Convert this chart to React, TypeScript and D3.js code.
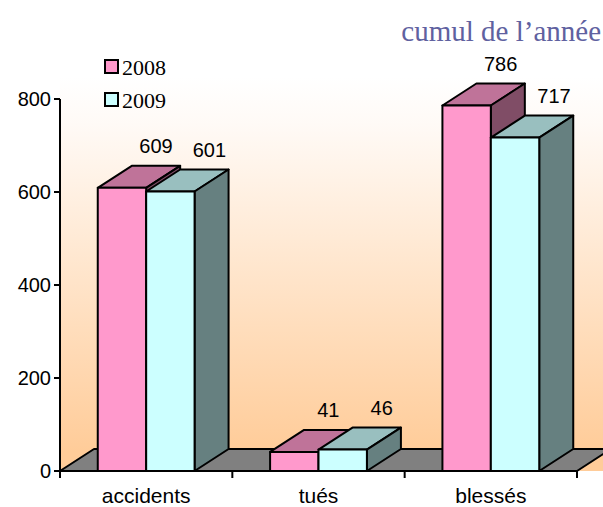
import React from "react";
import * as d3 from "d3";

const categories = ["accidents", "tués", "blessés"];
const seriesNames = ["2008", "2009"];
const values2008 = [609, 41, 786];
const values2009 = [601, 46, 717];
const yTicks = [0, 200, 400, 600, 800];

const width = 603;
const height = 507;
const left = 60;
const right = 577;
const bottom = 471;
const top = 99;
const dx = 34;
const dy = -22;

// excel style shading: front, top (75%), side (50%)
const shades = [
    { front: "#FF99CC", top: "#BF7399", side: "#804D66" },
    { front: "#CCFFFF", top: "#99BFBF", side: "#668080" },
];

const sans = "Liberation Sans, Arial, sans-serif";
const serif = "Liberation Serif, Times New Roman, serif";

const App: React.FC = () => {
    const x = d3.scaleBand().domain(categories).range([left, right]);
    const inner = d3.scaleBand()
        .domain(seriesNames)
        .range([0, x.bandwidth()])
        .paddingInner(0)
        .paddingOuter(0.78);
    const y = d3.scaleLinear().domain([0, 800]).range([bottom, top]);

    const rows = categories.flatMap((c, i) =>
        [values2008[i], values2009[i]].map((v, s) => ({ c, s, v }))
    );

    const floor = [
        [left, bottom],
        [right, bottom],
        [right + dx, bottom + dy],
        [left + dx, bottom + dy],
    ];

    return (
        <svg
            width={width}
            height={height}
            style={{ position: "absolute", left: 0, top: 0, background: "#fff" }}
        >
            <defs>
                <linearGradient id="wall" x1="0" y1="0" x2="0" y2="1">
                    <stop offset="0" stopColor="#ffffff" />
                    <stop offset="0.12" stopColor="#fffaf6" />
                    <stop offset="0.95" stopColor="#FFCC99" />
                    <stop offset="1" stopColor="#FFCC99" />
                </linearGradient>
            </defs>

            {/* walls */}
            <rect
                x={left}
                y={top + dy}
                width={width - left}
                height={bottom - (top + dy)}
                fill="url(#wall)"
            />
            <polygon
                points={floor.map((p) => p.join(",")).join(" ")}
                fill="#808080"
                stroke="#000"
                strokeWidth={2}
                strokeLinejoin="round"
            />

            {/* bars */}
            {rows.map((d, i) => {
                const x0 = (x(d.c) as number) + (inner(seriesNames[d.s]) as number);
                const w = inner.bandwidth();
                const y0 = y(d.v);
                const sh = shades[d.s];
                const topFace = [
                    [x0, y0], [x0 + w, y0], [x0 + w + dx, y0 + dy], [x0 + dx, y0 + dy],
                ];
                const sideFace = [
                    [x0 + w, y0], [x0 + w + dx, y0 + dy], [x0 + w + dx, bottom + dy], [x0 + w, bottom],
                ];
                return (
                    <g key={i} stroke="#000" strokeWidth={2} strokeLinejoin="round">
                        <polygon points={topFace.map((p) => p.join(",")).join(" ")} fill={sh.top} />
                        <polygon points={sideFace.map((p) => p.join(",")).join(" ")} fill={sh.side} />
                        <rect x={x0} y={y0} width={w} height={bottom - y0} fill={sh.front} />
                    </g>
                );
            })}

            {/* value labels */}
            {rows.map((d, i) => {
                const x0 = (x(d.c) as number) + (inner(seriesNames[d.s]) as number);
                const cx = x0 + inner.bandwidth() / 2 + dx + (d.s === 1 ? 5 : 0);
                return (
                    <text
                        key={"l" + i}
                        x={cx}
                        y={y(d.v) + dy - 13}
                        textAnchor="middle"
                        fontFamily={sans}
                        fontSize={20}
                        fill="#000"
                    >
                        {d.v}
                    </text>
                );
            })}

            {/* y axis */}
            <line x1={left} x2={left} y1={top} y2={bottom} stroke="#000" strokeWidth={2} />
            {yTicks.map((t) => (
                <g key={t}>
                    <line x1={left - 6} x2={left} y1={y(t)} y2={y(t)} stroke="#000" strokeWidth={2} />
                    <text
                        x={left - 9}
                        y={y(t)}
                        dy="0.36em"
                        textAnchor="end"
                        fontFamily={sans}
                        fontSize={20}
                    >
                        {t}
                    </text>
                </g>
            ))}

            {/* x axis */}
            <line x1={left} x2={right} y1={bottom} y2={bottom} stroke="#000" strokeWidth={2} />
            {[...categories.map((c) => x(c) as number), right].map((t, i) => (
                <line key={i} x1={t} x2={t} y1={bottom} y2={bottom + 7} stroke="#000" strokeWidth={2} />
            ))}
            {categories.map((c) => (
                <text
                    key={c}
                    x={(x(c) as number) + x.bandwidth() / 2}
                    y={503}
                    textAnchor="middle"
                    fontFamily={sans}
                    fontSize={21}
                >
                    {c}
                </text>
            ))}

            {/* legend */}
            {seriesNames.map((s, i) => (
                <g key={s} transform={`translate(105,${60 + i * 33})`}>
                    <rect x={0} y={0} width={13} height={13} fill={shades[i].front} stroke="#000" strokeWidth={2} />
                    <text x={17} y={15} fontFamily={serif} fontSize={22}>
                        {s}
                    </text>
                </g>
            ))}

            {/* title */}
            <text
                x={601}
                y={41}
                textAnchor="end"
                fontFamily={serif}
                fontSize={29}
                fill="#5F61A0"
            >
                cumul de l’année
            </text>
        </svg>
    );
};

export default App;
